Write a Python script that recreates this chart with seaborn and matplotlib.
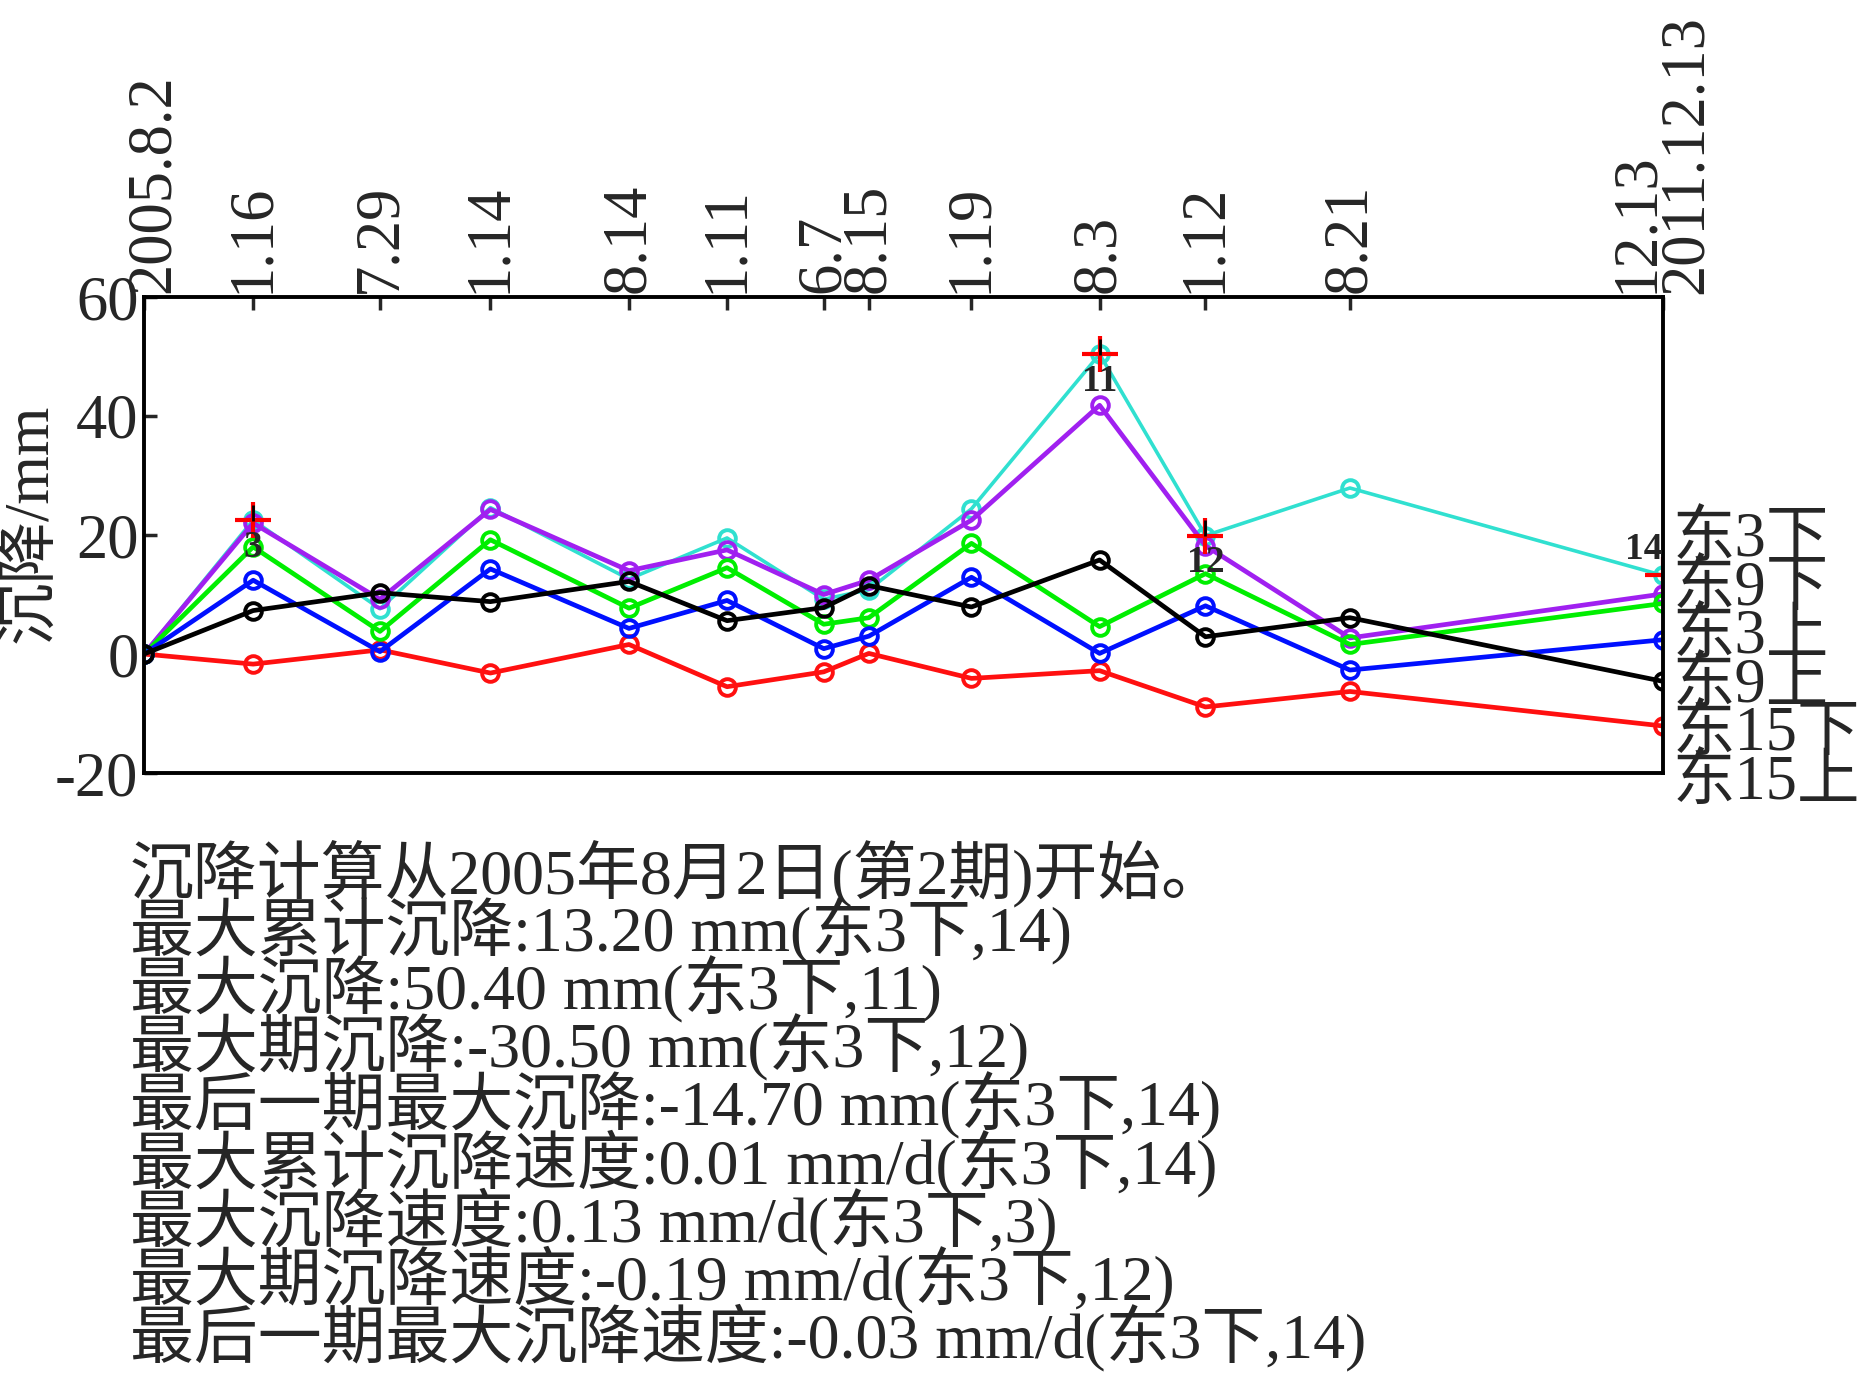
import pandas as pd
import matplotlib
matplotlib.use('Agg')
import matplotlib.pyplot as plt
import matplotlib.dates as mdates
from matplotlib.transforms import ScaledTranslation
import seaborn as sns

# 观测日期与顶部刻度文字
dates = ['2005-08-02', '2006-01-16', '2006-07-29', '2007-01-14', '2007-08-14',
         '2008-01-11', '2008-06-07', '2008-08-15', '2009-01-19', '2009-08-03',
         '2010-01-12', '2010-08-21', '2011-12-13']
tick_labels = ['2005.8.2', '1.16', '7.29', '1.14', '8.14', '1.11', '6.7', '8.15',
               '1.19', '8.3', '1.12', '8.21', '12.13']
end_label = '2011.12.13'

# 各测点累计沉降 (mm)
e3_down = [0, 22.5, 7.6, 24.6, 12.6, 19.5, 9.2, 10.8, 24.4, 50.4, 19.9, 27.9, 13.2]
e9_down = [0, 22.0, 9.2, 24.3, 14.0, 17.5, 10.0, 12.4, 22.5, 41.8, 18.2, 2.7, 10.1]
e3_up = [0, 18.0, 3.8, 19.2, 7.7, 14.5, 5.0, 6.1, 18.6, 4.6, 13.5, 1.6, 8.5]
e9_up = [0, 12.4, 0.4, 14.3, 4.3, 9.0, 0.9, 3.0, 12.9, 0.1, 8.1, -2.7, 2.4]
e15_down = [0, 7.3, 10.3, 8.8, 12.2, 5.6, 7.8, 11.5, 7.9, 15.8, 2.9, 6.1, -4.6]
e15_up = [0, -1.7, 0.7, -3.2, 1.6, -5.5, -3.0, 0.1, -4.1, -2.8, -8.9, -6.3, -12.1]

series_names = ['东3下', '东9下', '东3上', '东9上', '东15下', '东15上']

# 最大值标注 (期号, 日期序号)
mark_idx = [1, 9, 10, 12]
mark_text = ['3', '11', '12', '14']
mark_text_y = [17.9, 45.8, 15.3, 17.6]

info_lines = [
    '沉降计算从2005年8月2日(第2期)开始。',
    '最大累计沉降:13.20 mm(东3下,14)',
    '最大沉降:50.40 mm(东3下,11)',
    '最大期沉降:-30.50 mm(东3下,12)',
    '最后一期最大沉降:-14.70 mm(东3下,14)',
    '最大累计沉降速度:0.01 mm/d(东3下,14)',
    '最大沉降速度:0.13 mm/d(东3下,3)',
    '最大期沉降速度:-0.19 mm/d(东3下,12)',
    '最后一期最大沉降速度:-0.03 mm/d(东3下,14)',
]

sns.set_style('white')
plt.rcParams['font.family'] = ['Liberation Serif', 'Noto Sans CJK SC']
plt.rcParams['axes.unicode_minus'] = False

W, H = 1861, 1388
fig = plt.figure(figsize=(W / 100, H / 100), dpi=100)
ax = fig.add_axes([144 / W, 1 - 773 / H, (1663 - 144) / W, (773 - 297) / H])

x = pd.to_datetime(dates)
# 绘制顺序: 红、青、紫、绿、蓝、黑
plot_order = [
    (e15_up, '#ff1010', 3.4),
    (e3_down, '#30e0d0', 2.6),
    (e9_down, '#a020f0', 3.4),
    (e3_up, '#00ee00', 3.4),
    (e9_up, '#0010ff', 3.4),
    (e15_down, 'black', 3.4),
]
for vals, c, lw in plot_order:
    sns.lineplot(x=x, y=vals, color=c, marker='o', ms=12, mfc='none', mec=c,
                 mew=2.8, lw=lw, ax=ax)

# 最大值十字标记
for i, t, ty in zip(mark_idx, mark_text, mark_text_y):
    ax.plot(x[i], e3_down[i], marker='+', color='red', ms=26, mew=3, ls='none')
    ax.plot(x[i], e3_down[i] + 1.2, marker='|', color='black', ms=12, mew=2, ls='none')
    xn = mdates.date2num(x[i])
    ha = 'right' if i == len(dates) - 1 else 'center'
    ax.text(xn, ty, t, ha=ha, va='center', fontsize=27, fontweight='bold')

ax.set_xlim(x[0], x[-1])
ax.set_ylim(-20, 60)
ax.set_yticks([-20, 0, 20, 40, 60])
ax.set_yticklabels(['-20', '0', '20', '40', '60'])

ax.xaxis.tick_top()
ax.set_xticks(list(x))
ax.set_xticklabels(tick_labels)
ax.tick_params(axis='x', top=True, bottom=False, direction='in', length=9, width=2.5,
               labelrotation=90, pad=3, labelsize=45)
ax.tick_params(axis='y', left=True, right=False, direction='in', length=9, width=2.5,
               pad=4, labelsize=45)

# 首尾日期文字稍作错开
ticks = ax.xaxis.get_major_ticks()
for k, dx in [(0, 10), (len(ticks) - 1, -26)]:
    lab = ticks[k].label2
    lab.set_transform(lab.get_transform() + ScaledTranslation(dx / 100, 0, fig.dpi_scale_trans))

end_tr = ax.transAxes + ScaledTranslation(24 / 100, 3 / 100, fig.dpi_scale_trans)
ax.text(1, 1, end_label, transform=end_tr, rotation=90, ha='center', va='bottom',
        fontsize=45)

for sp in ax.spines.values():
    sp.set_linewidth(2.8)
    sp.set_color('black')

ax.set_xlabel('')
ax.set_ylabel('')
fig.text(31 / W, 1 - 523 / H, '沉降/mm', rotation=90, ha='center', va='center', fontsize=45)

# 右侧测点名称
for k, name in enumerate(series_names):
    yc = 541 + 48.5 * k
    fig.text(1673 / W, 1 - yc / H, name, ha='left', va='center', fontsize=45)

# 下方统计信息
for k, line in enumerate(info_lines):
    yb = 893 + 58 * k
    fig.text(130 / W, 1 - yb / H, line, ha='left', va='baseline', fontsize=46)

fig.savefig('out.png', dpi=100)
